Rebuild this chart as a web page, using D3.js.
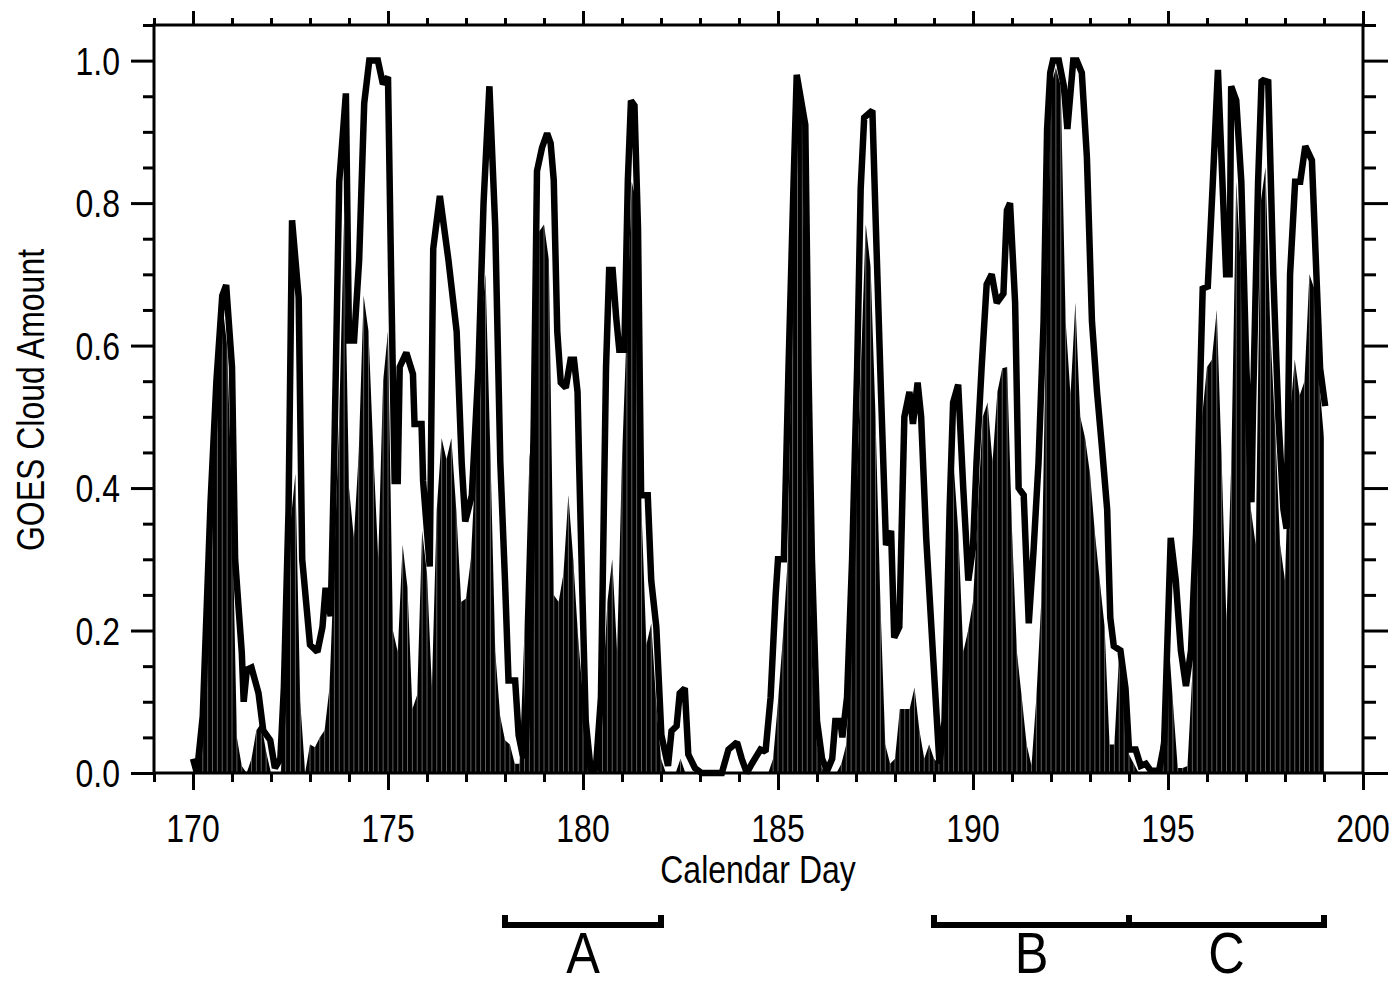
<!DOCTYPE html>
<html>
<head>
<meta charset="utf-8">
<script src="https://cdn.jsdelivr.net/npm/d3@7"></script>
<style>
  body { margin: 0; background: #fff; }
  text { font-family: "Liberation Sans", Arial, Helvetica, sans-serif; fill: #000; }
</style>
</head>
<body>
<script>
// 3-hourly cloud amount drawn as the filled area, 8 values per day from day 170.0
let fillStartDay = 170;
let samplesPerDay = 8;
let fillValues = [
    0, 0, 0.08, 0.30, 0.45, 0.62, 0.66, 0.60,            // 170
    0.38, 0.05, 0.01, 0.0, 0.02, 0.06, 0.07, 0.03,       // 171
    0, 0, 0, 0.12, 0.35, 0.42, 0.10, 0.0,                // 172
    0.04, 0.036, 0.05, 0.06, 0.12, 0.30, 0.50, 0.78,     // 173
    0.40, 0.33, 0.45, 0.67, 0.62, 0.45, 0.30, 0.55,      // 174
    0.62, 0.20, 0.17, 0.32, 0.26, 0.09, 0.11, 0.34,      // 175
    0.28, 0.12, 0.37, 0.47, 0.44, 0.47, 0.37, 0.24,      // 176
    0.245, 0.30, 0.44, 0.62, 0.70, 0.45, 0.17, 0.08,     // 177
    0.046, 0.04, 0.013, 0.013, 0.20, 0.44, 0.52, 0.76,   // 178
    0.77, 0.72, 0.25, 0.24, 0.28, 0.39, 0.30, 0.19,      // 179
    0.106, 0.05, 0.01, 0.01, 0.106, 0.24, 0.30, 0.17,    // 180
    0.44, 0.63, 0.83, 0.80, 0.37, 0.18, 0.21, 0.10,      // 181
    0.02, 0, 0, 0, 0.02, 0, 0, 0,                        // 182
    0, 0, 0, 0, 0, 0, 0, 0,                              // 183
    0, 0, 0, 0, 0, 0, 0, 0.02,                           // 184
    0.10, 0.19, 0.30, 0.70, 0.97, 0.92, 0.44, 0.15,      // 185
    0.04, 0.007, 0, 0, 0, 0.013, 0.04, 0.17,             // 186
    0.37, 0.57, 0.77, 0.71, 0.50, 0.24, 0.04, 0.013,     // 187
    0.02, 0.09, 0.09, 0.09, 0.12, 0.06, 0.02, 0.04,      // 188
    0.02, 0.013, 0.106, 0.37, 0.436, 0.337, 0.17, 0.20,  // 189
    0.24, 0.37, 0.50, 0.52, 0.436, 0.535, 0.568, 0.57,   // 190
    0.34, 0.17, 0.106, 0.04, 0.01, 0.106, 0.24, 0.634,   // 191
    0.964, 0.99, 0.964, 0.634, 0.53, 0.66, 0.50, 0.47,   // 192
    0.42, 0.337, 0.27, 0.205, 0.04, 0.04, 0.17, 0.13,    // 193
    0.026, 0.013, 0, 0, 0, 0, 0.007, 0.073,              // 194
    0.20, 0.10, 0.007, 0.007, 0.01, 0.14, 0.37, 0.50,    // 195
    0.57, 0.58, 0.65, 0.44, 0.21, 0.44, 0.83, 0.70,      // 196
    0.50, 0.37, 0.32, 0.80, 0.85, 0.62, 0.48, 0.32,      // 197
    0.27, 0.50, 0.58, 0.53, 0.55, 0.70, 0.68, 0.55,      // 198
    0.47                                                 // 199
];

// Thick line: [calendar day, cloud amount]
let lineData = [
    [170.0, 0.02], [170.1, 0.0], [170.25, 0.08], [170.45, 0.38], [170.6, 0.55], [170.75, 0.67],
    [170.85, 0.685], [171.0, 0.57], [171.08, 0.30], [171.25, 0.17], [171.3, 0.10], [171.38, 0.145],
    [171.5, 0.148], [171.68, 0.112], [171.8, 0.06], [171.98, 0.046], [172.1, 0.007], [172.24, 0.02],
    [172.33, 0.12], [172.45, 0.37], [172.54, 0.776], [172.71, 0.667], [172.8, 0.30], [173.0, 0.18],
    [173.19, 0.17], [173.32, 0.205], [173.4, 0.26], [173.53, 0.22], [173.62, 0.44], [173.75, 0.83],
    [173.92, 0.954], [174.0, 0.607], [174.13, 0.607], [174.26, 0.72], [174.39, 0.94], [174.52, 1.0],
    [174.74, 1.0], [174.87, 0.967], [175.0, 0.977], [175.08, 0.70], [175.17, 0.41], [175.25, 0.41],
    [175.3, 0.57], [175.47, 0.59], [175.64, 0.56], [175.68, 0.49], [175.86, 0.49], [175.9, 0.41],
    [176.07, 0.29], [176.16, 0.736], [176.33, 0.81], [176.55, 0.72], [176.76, 0.62], [176.89, 0.435],
    [176.98, 0.353], [177.15, 0.39], [177.32, 0.57], [177.45, 0.80], [177.6, 0.964], [177.75, 0.766],
    [177.88, 0.436], [178.0, 0.27], [178.09, 0.13], [178.26, 0.13], [178.35, 0.053], [178.45, 0.026],
    [178.52, 0.023], [178.65, 0.205], [178.74, 0.50], [178.82, 0.845], [178.95, 0.878], [179.08, 0.898],
    [179.17, 0.884], [179.25, 0.832], [179.34, 0.62], [179.43, 0.548], [179.56, 0.541], [179.68, 0.58],
    [179.77, 0.58], [179.86, 0.535], [179.9, 0.436], [179.99, 0.238], [180.07, 0.073], [180.2, 0.003],
    [180.33, 0.007], [180.46, 0.106], [180.59, 0.568], [180.67, 0.706], [180.76, 0.706], [180.85, 0.64],
    [180.93, 0.594], [181.06, 0.594], [181.15, 0.832], [181.23, 0.944], [181.32, 0.937], [181.41, 0.766],
    [181.49, 0.39], [181.66, 0.39], [181.75, 0.27], [181.88, 0.205], [182.01, 0.053], [182.18, 0.01],
    [182.27, 0.059], [182.4, 0.066], [182.48, 0.112], [182.61, 0.119], [182.7, 0.026], [182.87, 0.007],
    [183.04, 0.0], [183.56, 0.0], [183.73, 0.033], [183.95, 0.043], [184.07, 0.02], [184.2, 0.0],
    [184.33, 0.013], [184.55, 0.033], [184.68, 0.03], [184.81, 0.106], [184.94, 0.25], [185.0, 0.30],
    [185.15, 0.30], [185.27, 0.57], [185.4, 0.83], [185.48, 0.98], [185.7, 0.91], [185.78, 0.57],
    [185.87, 0.30], [186.0, 0.073], [186.13, 0.02], [186.26, 0.003], [186.39, 0.02], [186.47, 0.073],
    [186.6, 0.073], [186.65, 0.05], [186.77, 0.106], [186.9, 0.30], [187.03, 0.57], [187.12, 0.82],
    [187.21, 0.92], [187.42, 0.93], [187.51, 0.766], [187.64, 0.535], [187.77, 0.32], [187.9, 0.34],
    [187.98, 0.19], [188.11, 0.205], [188.24, 0.50], [188.37, 0.535], [188.46, 0.49], [188.58, 0.548],
    [188.67, 0.50], [188.8, 0.33], [188.97, 0.17], [189.14, 0.013], [189.27, 0.073], [189.4, 0.37],
    [189.49, 0.52], [189.62, 0.545], [189.75, 0.40], [189.88, 0.27], [190.0, 0.317], [190.09, 0.436],
    [190.22, 0.568], [190.35, 0.686], [190.48, 0.70], [190.61, 0.66], [190.78, 0.673], [190.87, 0.79],
    [190.95, 0.80], [191.08, 0.66], [191.17, 0.40], [191.3, 0.39], [191.43, 0.21], [191.55, 0.31],
    [191.68, 0.436], [191.81, 0.634], [191.9, 0.904], [191.98, 0.983], [192.05, 1.0], [192.2, 1.0],
    [192.33, 0.964], [192.42, 0.904], [192.57, 1.0], [192.66, 1.0], [192.79, 0.983], [192.92, 0.865],
    [193.05, 0.634], [193.18, 0.535], [193.31, 0.455], [193.44, 0.37], [193.52, 0.218], [193.61, 0.178],
    [193.78, 0.172], [193.91, 0.119], [194.0, 0.033], [194.17, 0.033], [194.3, 0.01], [194.43, 0.013],
    [194.56, 0.003], [194.77, 0.003], [194.9, 0.04], [195.07, 0.33], [195.2, 0.27], [195.33, 0.172],
    [195.46, 0.122], [195.59, 0.172], [195.72, 0.337], [195.8, 0.50], [195.89, 0.68], [196.02, 0.683],
    [196.15, 0.83], [196.28, 0.987], [196.41, 0.81], [196.49, 0.70], [196.58, 0.70], [196.62, 0.964],
    [196.75, 0.944], [196.88, 0.83], [197.01, 0.568], [197.14, 0.38], [197.18, 0.515], [197.31, 0.83],
    [197.4, 0.973], [197.57, 0.97], [197.7, 0.70], [197.83, 0.50], [197.96, 0.37], [198.04, 0.343],
    [198.13, 0.70], [198.26, 0.83], [198.39, 0.83], [198.52, 0.88], [198.69, 0.86], [198.9, 0.568],
    [199.03, 0.515]
];

// Periods marked under the axis
let periods = [
    {label: "A", start: 178, end: 182},
    {label: "B", start: 189, end: 194},
    {label: "C", start: 194, end: 199}
];

let xMajorTicks = [170, 175, 180, 185, 190, 195, 200];
let xMinorTicks = d3.range(169, 201);
let yMajorTicks = [0, 0.2, 0.4, 0.6, 0.8, 1.0];
let yMinorTicks = [0.05, 0.1, 0.15, 0.25, 0.3, 0.35, 0.45, 0.5, 0.55, 0.65, 0.7, 0.75, 0.85, 0.9, 0.95, 1.05];

let width = 1397, height = 986;
let plotLeft = 154, plotRight = 1363, plotTop = 25, plotBottom = 773;
let narrow = 0.82;   // the original uses a condensed Helvetica

let svg = d3.select("body").append("svg")
    .attr("width", width)
    .attr("height", height);

let x = d3.scaleLinear().domain([169, 200]).range([plotLeft, plotRight]);
let y = d3.scaleLinear().domain([0, 1.05]).range([plotBottom, plotTop]);

let fillData = fillValues.map(function (v, i) {
    return [fillStartDay + i / samplesPerDay, v];
});

let area = d3.area()
    .x(function (d) { return x(d[0]); })
    .y0(y(0))
    .y1(function (d) { return y(d[1]); });

// clip for the seams between the 3-hourly strips
svg.append("clipPath")
    .attr("id", "fillClip")
    .append("path")
    .attr("d", area(fillData));

svg.append("path")
    .attr("d", area(fillData))
    .attr("fill", "#000");

svg.append("g")
    .attr("clip-path", "url(#fillClip)")
    .selectAll("line")
    .data(fillData)
    .enter()
    .append("line")
    .attr("x1", function (d) { return x(d[0]); })
    .attr("x2", function (d) { return x(d[0]); })
    .attr("y1", y(0))
    .attr("y2", y(1.05))
    .attr("stroke", "#a0a0a0")
    .attr("stroke-width", 0.6);

let line = d3.line()
    .x(function (d) { return x(d[0]); })
    .y(function (d) { return y(d[1]); });

svg.append("path")
    .attr("d", line(lineData))
    .attr("fill", "none")
    .attr("stroke", "#000")
    .attr("stroke-width", 6.5)
    .attr("stroke-linejoin", "miter")
    .attr("stroke-miterlimit", 1.6);

// Frame
svg.append("rect")
    .attr("x", plotLeft)
    .attr("y", plotTop)
    .attr("width", plotRight - plotLeft)
    .attr("height", plotBottom - plotTop)
    .attr("fill", "none")
    .attr("stroke", "#000")
    .attr("stroke-width", 3);

function tickAxis(axis, transform) {
    let g = svg.append("g")
        .attr("transform", transform)
        .call(axis);
    g.select(".domain").remove();
    g.selectAll("line").attr("stroke", "#000").attr("stroke-width", 3);
    g.selectAll("text").remove();
    return g;
}

tickAxis(d3.axisBottom(x).tickValues(xMinorTicks).tickSize(9), "translate(0," + plotBottom + ")");
tickAxis(d3.axisBottom(x).tickValues(xMajorTicks).tickSize(17), "translate(0," + plotBottom + ")");
tickAxis(d3.axisTop(x).tickValues(xMinorTicks).tickSize(7), "translate(0," + plotTop + ")");
tickAxis(d3.axisTop(x).tickValues(xMajorTicks).tickSize(14), "translate(0," + plotTop + ")");
tickAxis(d3.axisLeft(y).tickValues(yMinorTicks).tickSize(11), "translate(" + plotLeft + ",0)");
tickAxis(d3.axisLeft(y).tickValues(yMajorTicks).tickSize(23), "translate(" + plotLeft + ",0)");
tickAxis(d3.axisRight(y).tickValues(yMinorTicks).tickSize(13), "translate(" + plotRight + ",0)");
tickAxis(d3.axisRight(y).tickValues(yMajorTicks).tickSize(25), "translate(" + plotRight + ",0)");

// condensed text placed at (px, py)
function narrowText(parent, px, py, str, size, anchor, rotate, squeeze) {
    return parent.append("text")
        .attr("transform", "translate(" + px + "," + py + ")" + (rotate ? " rotate(" + rotate + ")" : "") +
            " scale(" + (squeeze || narrow) + ",1)")
        .attr("text-anchor", anchor)
        .attr("font-size", size)
        .text(str);
}

// Tick labels
let xLabels = svg.append("g");
xMajorTicks.forEach(function (d) {
    narrowText(xLabels, x(d), 842, d, 39, "middle");
});

let yLabels = svg.append("g");
yMajorTicks.forEach(function (d) {
    narrowText(yLabels, 120, y(d) + 14, d.toFixed(1), 39, "end");
});

narrowText(svg, 758, 883, "Calendar Day", 39, "middle");
narrowText(svg, 44, 400, "GOES Cloud Amount", 39, "middle", -90);

// Period brackets
let bracket = svg.append("g").attr("class", "periods");

bracket.selectAll("path")
    .data(periods)
    .enter()
    .append("path")
    .attr("d", function (d) {
        return "M" + x(d.start) + ",915 V925 H" + x(d.end) + " V915";
    })
    .attr("fill", "none")
    .attr("stroke", "#000")
    .attr("stroke-width", 6);

periods.forEach(function (d) {
    narrowText(bracket, x((d.start + d.end) / 2), 973, d.label, 58, "middle", 0, 0.87);
});
</script>
</body>
</html>
